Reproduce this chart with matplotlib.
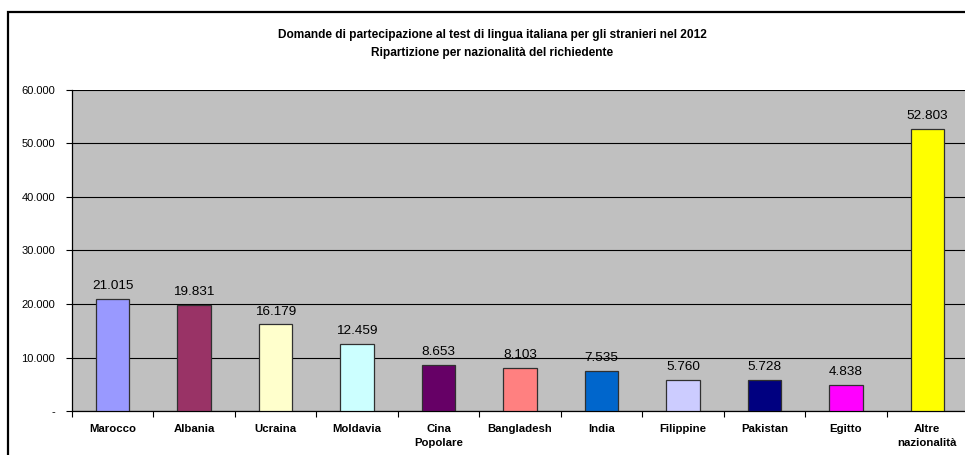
import matplotlib
matplotlib.use("Agg")
import matplotlib.pyplot as plt
from matplotlib.patches import Rectangle
from matplotlib.ticker import FuncFormatter, MultipleLocator
import numpy as np

# data
countries = ["Marocco", "Albania", "Ucraina", "Moldavia", "Cina\nPopolare",
             "Bangladesh", "India", "Filippine", "Pakistan", "Egitto",
             "Altre\nnazionalità"]
requests = [21015, 19831, 16179, 12459, 8653, 8103, 7535, 5760, 5728, 4838, 52803]
colors = ["#9999FF", "#993366", "#FFFFCC", "#CCFFFF", "#660066", "#FF8080",
          "#0066CC", "#CCCCFF", "#000080", "#FF00FF", "#FFFF00"]
title = ("Domande di partecipazione al test di lingua italiana per gli stranieri nel 2012\n"
         "Ripartizione per nazionalità del richiedente")

plt.rcParams["font.family"] = ["Liberation Sans", "DejaVu Sans"]

W, H = 965, 455
fig = plt.figure(figsize=(W / 100, H / 100), dpi=100)
fig.patch.set_facecolor("white")

# outer chart frame
fig.add_artist(Rectangle((8 / W, -0.05), 1.1, (H - 12) / H + 0.05,
                         transform=fig.transFigure, fill=False,
                         edgecolor="black", lw=1.6))

ax = fig.add_axes([72 / W, (H - 411) / H, 896 / W, 321 / H])
ax.set_facecolor("#C0C0C0")

x = np.arange(len(countries))
ax.bar(x, requests, width=0.41, color=colors, edgecolor="#303030", lw=0.9, zorder=3)
for xi, v in zip(x, requests):
    ax.text(xi, v + 1850, f"{v:,}".replace(",", "."), ha="center", va="baseline",
            fontsize=9.7, zorder=4)

ax.set_xlim(-0.5, len(countries) - 0.5)
ax.set_ylim(0, 60000)
ax.yaxis.set_major_locator(MultipleLocator(10000))
ax.yaxis.set_major_formatter(FuncFormatter(
    lambda v, p: "-" if v == 0 else f"{int(v):,}".replace(",", ".")))
ax.grid(axis="y", color="black", lw=0.8, zorder=1)
ax.set_axisbelow(True)

# category ticks at boundaries, labels centered
ax.set_xticks(np.arange(len(countries) + 1) - 0.5)
ax.set_xticklabels([])
ax.set_xticks(x, minor=True)
ax.set_xticklabels(countries, minor=True, fontsize=8.2, fontweight="bold",
                   linespacing=1.6)
ax.tick_params(axis="x", which="minor", length=0, pad=9)
ax.tick_params(axis="x", which="major", length=4, width=0.8, direction="out")
ax.tick_params(axis="y", length=4, width=0.8, labelsize=8, pad=8)

for s in ["top", "right"]:
    ax.spines[s].set_visible(False)
ax.spines["left"].set_linewidth(0.9)
ax.spines["bottom"].set_linewidth(0.9)

fig.text(0.5 * (72 + 913) / W, 1 - 44 / H, title, ha="center", va="center",
         fontsize=8.6, fontweight="bold", linespacing=1.75)

fig.savefig("out.png", dpi=100)
